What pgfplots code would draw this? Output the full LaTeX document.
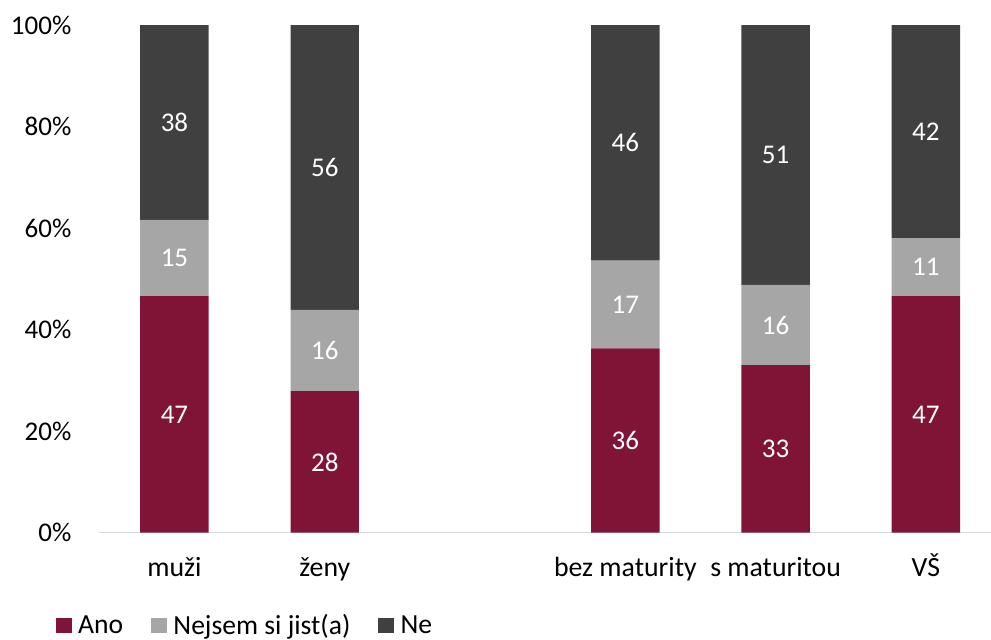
\documentclass[border=0pt]{standalone}
\usepackage{fontspec}
\setmainfont{Carlito}
\usepackage{pgfplots}
\usepackage{pgfplotstable}
\pgfplotsset{compat=1.18}

\definecolor{ano}{RGB}{127,20,55}
\definecolor{nejsem}{RGB}{166,166,166}
\definecolor{ne}{RGB}{64,64,64}
\definecolor{axisgray}{RGB}{217,217,217}

% Share of answers (in %) by sex and by education
\pgfplotstableread{
x  Ano   Nejsem  Ne
0  46.6  15.0    38.4
1  27.9  16.0    56.1
3  36.3  17.3    46.4
4  33.0  15.8    51.2
5  46.6  11.4    42.0
}\survey

\newcommand{\chartfont}{\fontsize{13.5}{16}\selectfont}
\newcommand{\catfont}{\fontsize{13.9}{16}\selectfont}
\newcommand{\legendfont}{\fontsize{13.8}{16}\selectfont}

\pgfplotsset{
  % each segment is labelled with its own (rounded) value
  seglabel/.style={point meta=\thisrow{#1}},
}

\begin{document}
\begin{tikzpicture}
\useasboundingbox (-49.65pt,-53.15pt) rectangle (445.85pt,266.35pt);
\begin{axis}[
  scale only axis,
  width=445.85pt, height=253.85pt,
  ybar stacked, bar width=34.2pt,
  xmin=-0.5, xmax=5.433, ymin=0, ymax=100,
  enlargelimits=false,
  axis lines*=left,
  axis line style={-},
  y axis line style={draw=none},
  x axis line style={draw=axisgray, line width=0.6pt},
  major tick length=0pt,
  tick style={draw=none},
  xtick={0,1,3,4,5},
  xticklabels={muži,ženy,bez maturity,s maturitou,VŠ},
  ytick={0,20,40,60,80,100},
  yticklabel={\pgfmathprintnumber{\tick}\%},
  /pgf/number format/assume math mode=true,
  tick label style={font=\chartfont, text=black},
  xticklabel style={font=\catfont, anchor=base, yshift=-22pt},
  yticklabel style={anchor=east, inner sep=0pt, xshift=-13.8pt},
  nodes near coords={\pgfmathprintnumber[fixed,precision=0]{\pgfplotspointmeta}},
  every node near coord/.append style={
    font=\chartfont, text=white, anchor=center,
  },
  legend columns=-1,
  legend image code/.code={
    \fill[#1] (0pt,-4.5pt) rectangle (7.8pt,3.3pt);
    \path (11.1pt,11pt);
  },
  legend style={
    at={(rel axis cs:0,0)}, anchor=south west,
    xshift=-21.65pt, yshift=-50.8pt,
    draw=none, fill=none, inner sep=0pt, outer sep=0pt,
    column sep=0pt, row sep=0pt,
    font=\legendfont,
    nodes={inner sep=0pt, text depth=0pt},
    /tikz/every even column/.append style={column sep=14pt},
  },
]
\addplot[fill=ano, draw=none, seglabel=Ano] table[x=x, y=Ano] \survey;
\addplot[fill=nejsem, draw=none, seglabel=Nejsem] table[x=x, y=Nejsem] \survey;
\addplot[fill=ne, draw=none, seglabel=Ne] table[x=x, y=Ne] \survey;
\legend{Ano, Nejsem si jist(a), Ne}
\end{axis}
\end{tikzpicture}
\end{document}
